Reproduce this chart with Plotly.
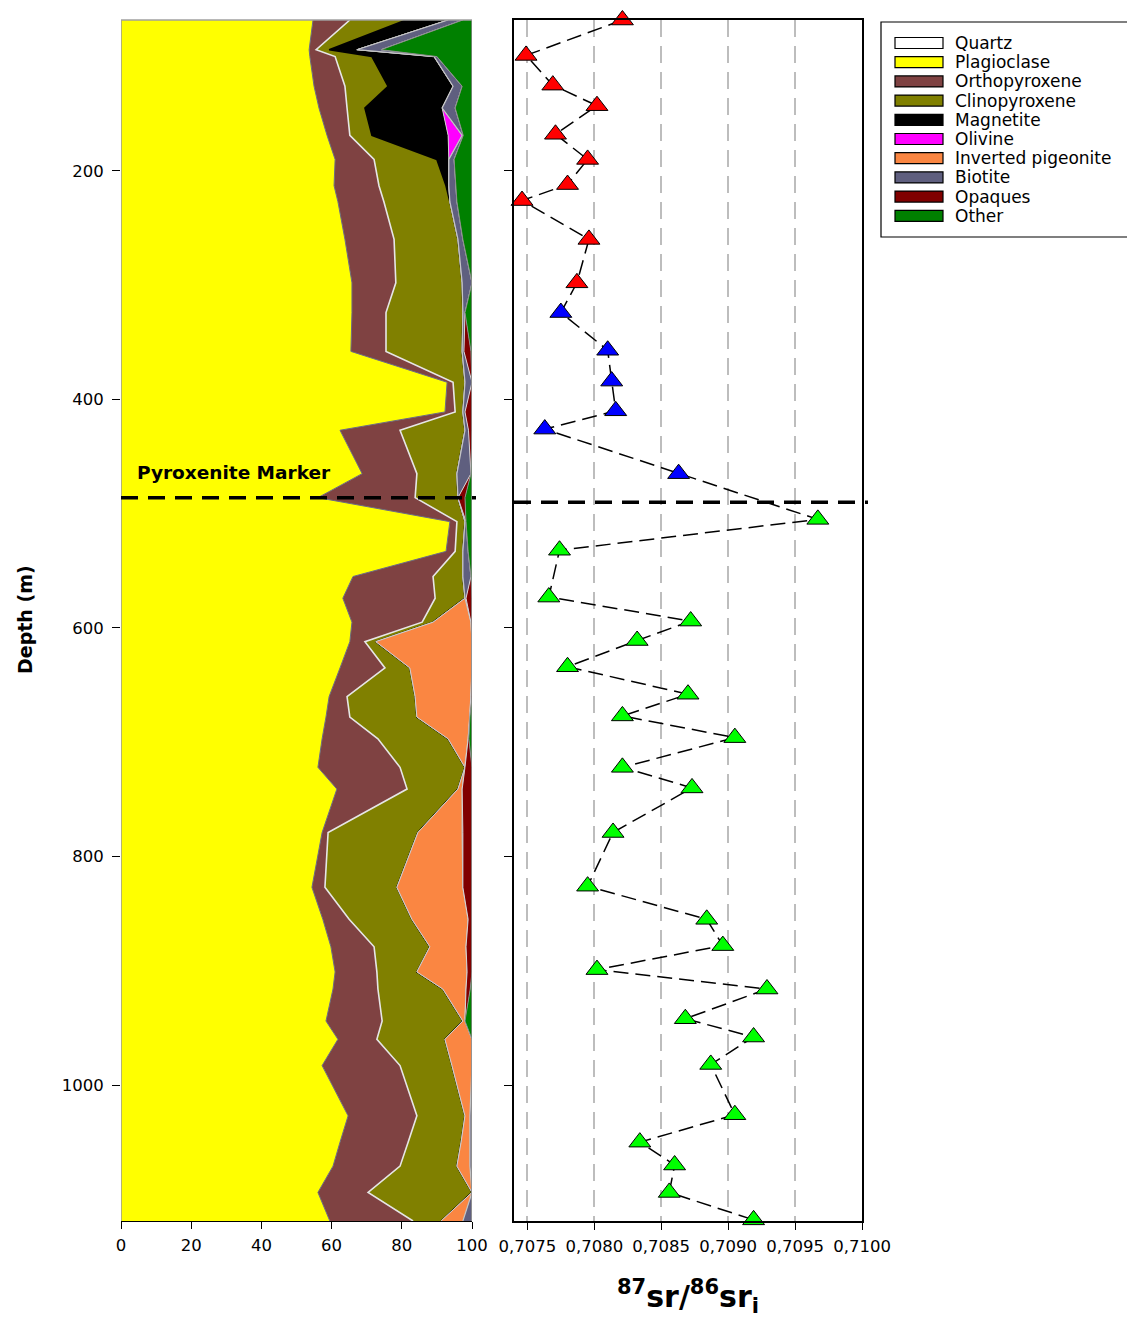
import plotly.graph_objects as go

# ---------------- data ----------------
# Modal mineralogy (vol %) down the borehole
mineral_depth = [68, 94, 100, 126, 145, 169, 190, 213, 227, 260,
                 298, 324, 358, 385, 411, 427, 465, 486, 507, 533,
                 555, 574, 595, 612, 635, 660, 678, 697, 722, 741,
                 779, 827, 855, 879, 901, 916, 944, 960, 983, 1027,
                 1050, 1071, 1094, 1119]

quartz = [0.0] * 44
plagioclase = [54.7, 53.6, 53.8, 55.0, 56.4, 58.7, 61.0, 60.7, 61.8, 63.8,
               65.8, 65.8, 65.5, 92.9, 92.3, 62.4, 68.7, 56.1, 93.7, 92.6,
               66.1, 63.2, 65.8, 65.2, 62.4, 59.3, 58.4, 57.3, 56.1, 61.5,
               57.3, 54.4, 57.5, 59.8, 61.0, 60.4, 58.4, 61.8, 57.3, 64.7,
               62.4, 60.4, 56.1, 59.5]
orthopyroxene = [10.5, 2.0, 7.2, 8.8, 8.0, 6.5, 11.1, 12.8, 13.1, 14.0,
                 12.5, 9.7, 10.0, 1.7, 2.9, 17.1, 15.6, 27.7, 2.0, 2.6,
                 22.8, 26.3, 20.0, 4.3, 12.8, 5.1, 6.8, 15.9, 23.4, 20.0,
                 1.7, 3.7, 7.5, 12.3, 11.9, 12.8, 16.0, 11.1, 22.2, 19.6,
                 19.4, 19.1, 14.3, 23.7]
clinopyroxene = [16.0, 3.7, 10.5, 12.3, 5.1, 6.3, 17.9, 19.1, 18.8, 18.2,
                 18.9, 21.9, 21.7, 3.4, 2.2, 18.5, 11.4, 12.2, 2.3, 2.2,
                 8.5, 8.5, 3.1, 3.1, 7.1, 19.4, 19.1, 20.0, 18.5, 14.5,
                 25.6, 20.5, 17.9, 15.9, 11.4, 18.5, 23.0, 19.4, 14.8, 13.7,
                 15.1, 16.2, 29.6, 8.0]
magnetite = [12.0, 7.9, 17.7, 18.5, 22.0, 21.7, 3.4, 0.8, 0.0, 0.0,
             0.0, 0.0, 0.0, 0.0, 0.0, 0.0, 0.0, 0.0, 0.0, 0.0,
             0.0, 0.0, 0.0, 0.0, 0.0, 0.0, 0.0, 0.0, 0.0, 0.0,
             0.0, 0.0, 0.0, 0.0, 0.0, 0.0, 0.0, 0.0, 0.0, 0.0,
             0.0, 0.0, 0.0, 0.0]
olivine = [0.0, 0.0, 0.0, 0.0, 0.0, 4.0, 0.0, 0.0, 0.0, 0.0,
           0.0, 0.0, 0.0, 0.0, 0.0, 0.0, 0.0, 0.0, 0.0, 0.0,
           0.0, 0.0, 0.0, 0.0, 0.0, 0.0, 0.0, 0.0, 0.0, 0.0,
           0.0, 0.0, 0.0, 0.0, 0.0, 0.0, 0.0, 0.0, 0.0, 0.0,
           0.0, 0.0, 0.0, 0.0]
inverted_pigeonite = [0.0, 0.0, 0.0, 0.0, 0.0, 0.0, 0.0, 0.0, 0.0, 0.0,
                      0.0, 0.0, 0.0, 0.0, 0.0, 0.0, 0.0, 0.0, 0.0, 0.0,
                      0.0, 0.0, 10.8, 27.4, 17.7, 15.9, 15.1, 5.7, 0.0, 1.2,
                      12.6, 18.8, 16.0, 10.3, 14.3, 6.6, 0.6, 7.7, 5.7, 1.4,
                      2.5, 3.7, 0.0, 6.2]
biotite = [4.2, 6.9, 0.8, 2.6, 3.7, 0.3, 1.5, 2.0, 2.0, 1.4,
           2.8, 0.6, 0.5, 2.0, 0.6, 1.0, 4.0, 0.0, 0.3, 1.5,
           2.3, 0.3, 0.0, 0.0, 0.0, 0.0, 0.0, 0.0, 0.0, 0.0,
           0.2, 0.0, 0.0, 0.0, 0.0, 0.0, 0.0, 0.0, 0.0, 0.6,
           0.6, 0.6, 0.0, 2.6]
opaques = [0.0, 0.0, 0.0, 0.0, 0.0, 0.0, 0.0, 0.0, 0.0, 0.0,
           0.0, 0.0, 2.0, 0.0, 2.0, 1.0, 0.0, 2.0, 0.0, 0.0,
           0.0, 1.7, 0.3, 0.0, 0.0, 0.3, 0.0, 0.2, 2.0, 2.8,
           2.6, 2.6, 1.1, 1.7, 1.4, 1.2, 0.0, 0.0, 0.0, 0.0,
           0.0, 0.0, 0.0, 0.0]
other = [2.6, 25.9, 10.0, 2.8, 4.8, 2.5, 5.1, 4.6, 4.3, 2.6,
         0.0, 2.0, 0.3, 0.0, 0.0, 0.0, 0.3, 2.0, 1.7, 1.1,
         0.3, 0.0, 0.0, 0.0, 0.0, 0.0, 0.6, 0.9, 0.0, 0.0,
         0.0, 0.0, 0.0, 0.0, 0.0, 0.5, 2.0, 0.0, 0.0, 0.0,
         0.0, 0.0, 0.0, 0.0]

mineral_names = ["Quartz", "Plagioclase", "Orthopyroxene", "Clinopyroxene",
                 "Magnetite", "Olivine", "Inverted pigeonite", "Biotite",
                 "Opaques", "Other"]
mineral_values = [quartz, plagioclase, orthopyroxene, clinopyroxene,
                  magnetite, olivine, inverted_pigeonite, biotite,
                  opaques, other]

# Initial Sr isotope ratios
sr_depth = [68, 99, 125, 143, 168, 190, 212, 226, 260, 298,
            324, 357, 384, 410, 426, 465,
            505, 532, 573, 594, 611, 634, 658, 677, 696, 722,
            740, 779, 826, 855, 878, 899, 916, 942, 958, 982,
            1026, 1050, 1070, 1094, 1118]
sr_ratio = [0.70821, 0.70749, 0.70769, 0.70802, 0.70771, 0.70795, 0.70780, 0.70746, 0.70796, 0.70787,
            0.70775, 0.70810, 0.70813, 0.70816, 0.70763, 0.70863,
            0.70967, 0.70774, 0.70766, 0.70872, 0.70832, 0.70780, 0.70870, 0.70821, 0.70905, 0.70821,
            0.70873, 0.70814, 0.70795, 0.70884, 0.70896, 0.70802, 0.70929, 0.70868, 0.70919, 0.70887,
            0.70905, 0.70834, 0.70860, 0.70856, 0.70919]
sr_group = ["upper"] * 10 + ["middle"] * 6 + ["lower"] * 25

marker_depth_left = 486
marker_depth_right = 490

pct_ticks = [0, 20, 40, 60, 80, 100]
depth_ticks = [200, 400, 600, 800, 1000]
sr_ticks = [0.7075, 0.7080, 0.7085, 0.7090, 0.7095, 0.7100]
sr_ticktext = ["0,7075", "0,7080", "0,7085", "0,7090", "0,7095", "0,7100"]

# ---------------- styles ----------------
W, H = 1127, 1318
FONT = "DejaVu Sans"

fill_colors = ["#FFFFFF", "#FFFF00", "#7F4242", "#808000", "#000000",
               "#FF00FF", "#FA8642", "#5F5F7F", "#800000", "#008000"]
edge_colors = ["#9A9A9A", "#6E6E7A", "#E6E6E6", "#000000", "#CFCFCF",
               "#CFCFCF", "#C4C4C4", "#D6D6D6", "#8C8C8C", "#8C8C8C"]
edge_widths = [1.5, 1.0, 1.6, 1.6, 1.0, 1.0, 1.2, 1.0, 1.0, 1.5]
group_colors = {"upper": "#FF0000", "middle": "#0000FF", "lower": "#00FF00"}


def px_x(px):
    return px / W


def px_y(py):
    return 1 - py / H


dom_left = [px_x(121), px_x(472)]
dom_right = [px_x(514), px_x(862)]
dom_y = [px_y(1221), px_y(20)]
depth_range = [max(mineral_depth), min(mineral_depth)]

fig = go.Figure()

# stacked mineral proportions (horizontal stacking along x)
for i, (name, vals) in enumerate(zip(mineral_names, mineral_values)):
    fig.add_trace(go.Scatter(
        x=vals, y=mineral_depth, name=name, mode="lines",
        stackgroup="modes", orientation="h",
        fillcolor=fill_colors[i],
        line=dict(color=edge_colors[i], width=edge_widths[i], shape="linear"),
        showlegend=False, hoverinfo="skip", xaxis="x", yaxis="y"))

# Sr isotope profile: dashed connector then coloured triangles
fig.add_trace(go.Scatter(
    x=sr_ratio, y=sr_depth, mode="lines",
    line=dict(color="black", width=1.5, dash="15px,7px"),
    showlegend=False, hoverinfo="skip", xaxis="x2", yaxis="y2", cliponaxis=False))
for grp, col in group_colors.items():
    xs = [r for r, g in zip(sr_ratio, sr_group) if g == grp]
    ys = [d for d, g in zip(sr_depth, sr_group) if g == grp]
    fig.add_trace(go.Scatter(
        x=xs, y=ys, mode="markers",
        marker=dict(symbol="triangle-up", size=19, color=col,
                    line=dict(color="black", width=1)),
        showlegend=False, hoverinfo="skip", xaxis="x2", yaxis="y2", cliponaxis=False))

tickfont = dict(family=FONT, size=16.5, color="black")

shapes = [
    # top border of the composition panel
    dict(type="line", xref="paper", yref="paper", x0=dom_left[0], x1=dom_left[1],
         y0=dom_y[1], y1=dom_y[1], line=dict(color="#A0A0A0", width=1.5)),
    # pyroxenite marker horizon
    dict(type="line", xref="paper", yref="y", x0=px_x(121), x1=px_x(476),
         y0=marker_depth_left, y1=marker_depth_left,
         line=dict(color="black", width=3.5, dash="17px,10px")),
    dict(type="line", xref="paper", yref="y2", x0=px_x(514), x1=px_x(868),
         y0=marker_depth_right, y1=marker_depth_right,
         line=dict(color="black", width=3.5, dash="17px,10px")),
    # legend frame
    dict(type="rect", xref="paper", yref="paper", x0=px_x(881), x1=px_x(1140),
         y0=px_y(237), y1=px_y(22), line=dict(color="black", width=1.2),
         fillcolor="white", layer="above"),
]

annotations = [
    dict(text="<b>Pyroxenite Marker</b>", xref="x", yref="y", x=4.0, y=464,
         xanchor="left", yanchor="middle", showarrow=False,
         font=dict(family=FONT, size=18.5, color="black")),
    dict(text="<b>Depth (m)</b>", xref="paper", yref="paper", x=px_x(25), y=px_y(620),
         xanchor="center", yanchor="middle", textangle=-90, showarrow=False,
         font=dict(family=FONT, size=19, color="black")),
    dict(text="<b><sup>87</sup>sr/<sup>86</sup>sr<sub>i</sub></b>", xref="paper", yref="paper",
         x=px_x(688), y=px_y(1296), xanchor="center", yanchor="middle", showarrow=False,
         font=dict(family=FONT, size=30, color="black")),
]

# custom legend entries
for i, name in enumerate(mineral_names):
    cy = 43 + 19.2 * i
    shapes.append(dict(type="rect", xref="paper", yref="paper",
                       x0=px_x(895), x1=px_x(943), y0=px_y(cy + 5.5), y1=px_y(cy - 5.5),
                       fillcolor=fill_colors[i], line=dict(color="black", width=1.2),
                       layer="above"))
    annotations.append(dict(text=name, xref="paper", yref="paper",
                            x=px_x(953), y=px_y(cy), xanchor="left", yanchor="middle",
                            showarrow=False, font=dict(family=FONT, size=17, color="black")))

fig.update_layout(
    width=W, height=H, autosize=False,
    margin=dict(l=0, r=0, t=0, b=0, pad=0, autoexpand=False),
    paper_bgcolor="white", plot_bgcolor="rgba(0,0,0,0)",
    showlegend=False,
    xaxis=dict(domain=dom_left, range=[0, 100], tickvals=pct_ticks, automargin=False,
               ticks="outside", ticklen=7, tickcolor="black", tickwidth=1,
               ticklabelstandoff=2,
               showline=True, linecolor="black", linewidth=1,
               showgrid=False, zeroline=False, tickfont=tickfont, anchor="y"),
    yaxis=dict(domain=dom_y, range=depth_range, tickvals=depth_ticks, automargin=False,
               ticks="outside", ticklen=8, tickcolor="black", tickwidth=1,
               ticklabelstandoff=5,
               showline=False, showgrid=False, zeroline=False,
               tickfont=tickfont, anchor="x"),
    xaxis2=dict(domain=dom_right, range=[0.70740, 0.7100], tickvals=sr_ticks,
                ticktext=sr_ticktext, ticks="outside", ticklen=7, tickcolor="black",
                automargin=False, ticklabelstandoff=2,
                showline=True, mirror=True, linecolor="black", linewidth=1.5,
                showgrid=True, gridcolor="#BDBDBD", gridwidth=2, griddash="17px,9px",
                zeroline=False, tickfont=tickfont, anchor="y2"),
    yaxis2=dict(domain=dom_y, range=depth_range, tickvals=depth_ticks,
                ticks="outside", ticklen=8, tickcolor="black", automargin=False,
                showticklabels=False, showline=True, mirror=True,
                linecolor="black", linewidth=1.5, showgrid=False, zeroline=False,
                anchor="x2"),
    shapes=shapes, annotations=annotations,
)

fig.write_html("out.html")
